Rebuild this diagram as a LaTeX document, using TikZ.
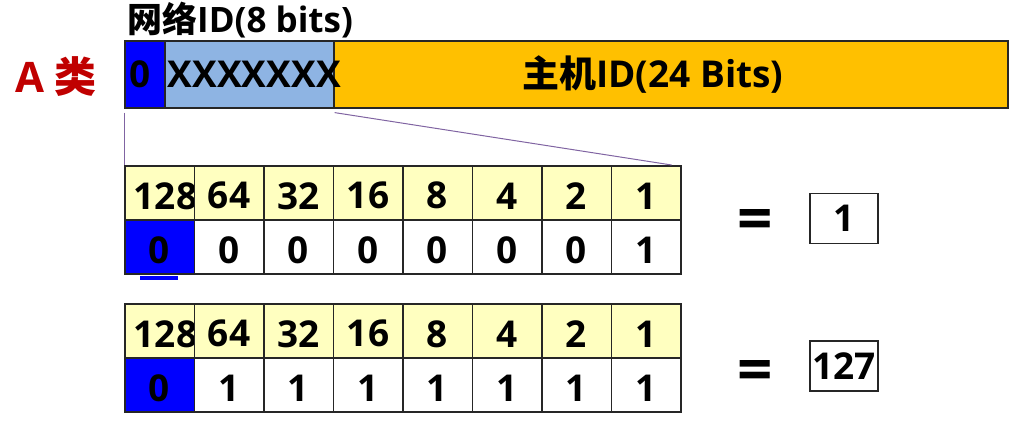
\documentclass[tikz,border=0pt]{standalone}
\usepackage{fontspec}
\setmainfont{Open Sans}
\newfontfamily\cjk{Noto Sans CJK SC}
\usepackage{tikz}
\usetikzlibrary{positioning}
\definecolor{cNetBit}  {HTML}{0000FF}
\definecolor{cNetRest} {HTML}{8EB4E3}
\definecolor{cHost}    {HTML}{FFC000}
\definecolor{cWeight}  {HTML}{FFFFC0}
\definecolor{cClass}   {HTML}{C00000}
\definecolor{cZoom}    {HTML}{8064A2}
\definecolor{cEdge}    {HTML}{262626}
\tikzset{
  field/.style={draw=cEdge, line width=1.6pt, minimum height=67pt,
                inner sep=0pt, anchor=north west},
  bitcell/.style={draw=cEdge, line width=1.6pt, minimum width=69.5pt,
                  minimum height=54pt, inner sep=0pt, anchor=north west},
  numtext/.style={font=\bfseries\fontsize{37}{42}\selectfont, inner sep=0pt},
  zoomline/.style={draw=cZoom, line width=1pt},
  resbox/.style={draw=cEdge, line width=1.2pt, minimum width=68pt,
                 minimum height=50pt, inner sep=0pt,
                 font=\bfseries\fontsize{37}{42}\selectfont},
  eqsign/.style={font=\bfseries\fontsize{62}{62}\selectfont, inner sep=0pt},
}
\begin{document}
\begin{tikzpicture}[x=1pt, y=-1pt]
  \useasboundingbox (0,0) rectangle (1012,428);
  % class A address
  \node[field, fill=cNetBit,  minimum width=40pt]  (netbit)  at (124,40) {};
  \node[field, fill=cNetRest, minimum width=169pt] (nethost) at (164,40) {};
  \node[field, fill=cHost,    minimum width=674pt] (hostid)  at (333,40) {};
  \node[numtext] (netbitlbl)  at ([xshift=-5pt]netbit.center) {0};
  \node[numtext] (nethostlbl) at ([xshift=5pt]nethost.center) {XXXXXXX};
  \node[numtext] (hostidlbl)  at ([xshift=-18pt]hostid.center) {{\cjk 主机}ID(24 Bits)};
  \node[font=\bfseries\fontsize{35}{40}\selectfont, inner sep=0pt, anchor=base west]
    (netidlbl) at (127,33) {{\cjk 网络}ID(8 bits)};
  \node[font=\bfseries\fontsize{42}{46}\selectfont, text=cClass, inner sep=0pt]
    (classlbl) at (56,77) {A {\cjk 类}};

  % first octet, bit by bit
  \foreach \t/\ty/\bits in {a/165/{0,0,0,0,0,0,0,1}, b/303/{0,1,1,1,1,1,1,1}}{
    \begin{scope}[shift={(0,\ty)}]
      \foreach \w/\dx [count=\i] in {128/6,64/0,32/0,16/0,8/0,4/0,2/0,1/0}{
        \node[bitcell, fill=cWeight] (w\t\i) at ({(\i-1)*69.5+124},0) {};
        \node[numtext] (wl\t\i) at ([xshift=\dx pt, yshift=-3pt]w\t\i.center) {\w};
      }
      \foreach \v [count=\i] in \bits{
        \def\cellfill{white}
        \ifnum\i=1 \def\cellfill{cNetBit}\fi
        \node[bitcell, fill=\cellfill] (b\t\i) at ({(\i-1)*69.5+124},54) {};
        \node[numtext] (bl\t\i) at ([yshift=-3pt]b\t\i.center) {\v};
      }
    \end{scope}
  }
  \fill[cNetBit] ([xshift=-20pt,yshift=-1pt]ba1.south) rectangle ([xshift=18pt,yshift=-5pt]ba1.south);

  \draw[zoomline] ([yshift=-4pt]netbit.south west) -- (wa1.north west);
  \draw[zoomline] ([yshift=-4pt]nethost.south east) -- ([xshift=-10pt]wa8.north east);

  % results
  \node[eqsign] (eqa) at (755,225) {=};
  \node[eqsign] (eqb) at (755,376) {=};
  \node[resbox] (resa) at (844,218.5) {1};
  \node[resbox] (resb) at (844,366) {127};
\end{tikzpicture}
\end{document}
